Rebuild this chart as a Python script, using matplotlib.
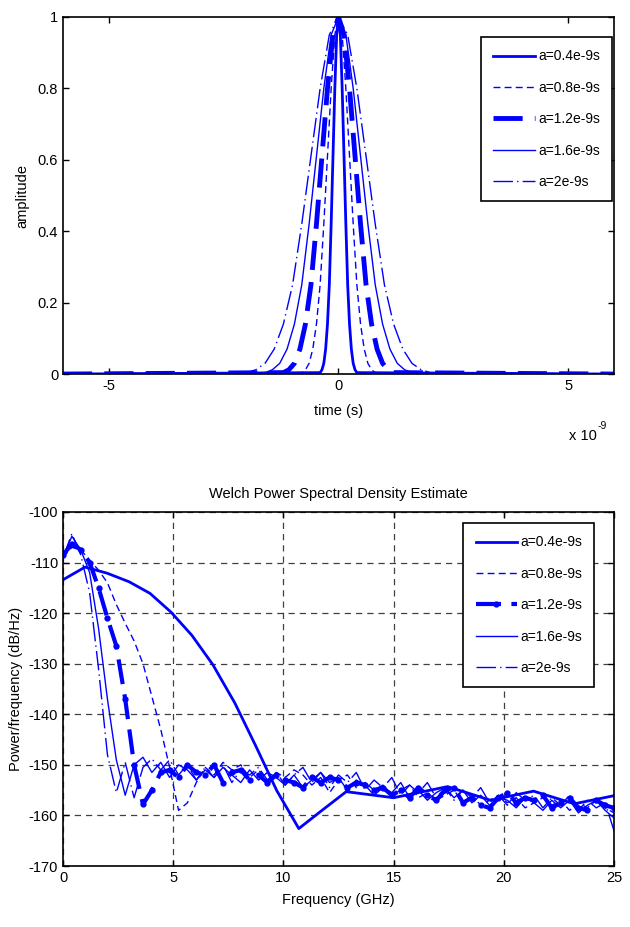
import numpy as np
import matplotlib
matplotlib.use("Agg")
import matplotlib.pyplot as plt

plt.rcParams['font.family'] = ['Liberation Sans', 'DejaVu Sans']
plt.rcParams['font.size'] = 10.5
plt.rcParams['axes.unicode_minus'] = False

labels = ["a=0.4e-9s", "a=0.8e-9s", "a=1.2e-9s", "a=1.6e-9s", "a=2e-9s"]

# top panel: half profile of each pulse (time in ns, right side, mirrored)
pulse_amp = [1.0, 0.95, 0.80, 0.61, 0.42, 0.25, 0.14, 0.07, 0.03, 0.012, 0.004, 0.0]
t_04 = [0, 0.04, 0.08, 0.12, 0.16, 0.20, 0.24, 0.28, 0.32, 0.36, 0.40, 6.0]
t_08 = [0, 0.08, 0.16, 0.24, 0.32, 0.40, 0.48, 0.56, 0.64, 0.72, 0.80, 6.0]
t_12 = [0, 0.12, 0.24, 0.36, 0.48, 0.60, 0.72, 0.84, 0.96, 1.08, 1.20, 6.0]
t_16 = [0, 0.16, 0.32, 0.48, 0.64, 0.80, 0.96, 1.12, 1.28, 1.44, 1.60, 6.0]
t_20 = [0, 0.20, 0.40, 0.60, 0.80, 1.00, 1.20, 1.40, 1.60, 1.80, 2.00, 6.0]

# bottom panel: Welch PSD (dB/Hz)
f_04 = [0, 1.0, 2.0, 3.0, 3.95, 4.9, 5.85, 6.8, 7.8, 8.75, 9.7, 10.7, 11.75,
        12.85, 15.0, 17.45, 19.4, 21.35, 23.2, 25.0]
psd_04 = [-113.4, -110.9, -112.1, -113.8, -116.1, -119.8, -124.4, -130.2, -137.8,
          -146.3, -155.1, -162.6, -159.0, -155.3, -156.5, -154.3, -157.0, -155.2,
          -157.7, -156.1]
psd_08 = [-109.0, -107.0, -107.5, -109.5, -111.5, -114.0, -118.3, -122.0, -125.5,
          -130.0, -136.5, -143.0, -150.5, -159.0, -157.5, -153.5, -150.5, -152.0,
          -149.5, -151.0, -150.0, -152.5, -151.0, -153.0, -151.5, -152.5, -151.0,
          -152.0, -154.0, -152.5, -155.5, -153.0, -152.0, -154.5, -153.5, -155.0,
          -154.0, -156.0, -155.0, -154.0, -156.5, -155.5, -157.0, -156.0, -155.0,
          -157.5, -156.0, -158.0, -157.0, -156.0, -157.5, -156.5, -158.5, -157.5,
          -156.5, -158.0, -157.0, -159.0, -157.5, -158.5, -157.0, -158.5, -159.5]
psd_12 = [-108.5, -106.3, -107.5, -110.0, -115.0, -121.0, -126.5, -137.0, -150.0,
          -157.8, -155.0, -151.5, -151.0, -152.5, -150.0, -151.5, -152.0, -150.0,
          -153.5, -151.5, -151.0, -153.0, -152.0, -153.5, -152.0, -153.0, -153.5,
          -154.5, -152.5, -153.5, -152.5, -153.0, -154.5, -153.5, -154.0, -155.0,
          -154.5, -156.0, -155.0, -156.5, -154.5, -156.0, -157.0, -155.0, -154.5,
          -157.5, -156.5, -158.0, -158.5, -156.5, -155.5, -157.5, -156.5, -157.0,
          -156.0, -158.5, -157.5, -156.5, -158.5, -159.0, -157.0, -158.0, -158.5]
psd_16 = [-109.0, -104.8, -107.5, -112.0, -123.0, -137.0, -149.0, -156.0, -150.0,
          -148.5, -151.5, -149.5, -152.5, -150.0, -151.0, -153.0, -151.0, -152.5,
          -150.5, -152.0, -153.5, -151.0, -153.0, -151.5, -152.5, -154.0, -152.0,
          -154.5, -153.0, -151.5, -153.5, -152.5, -155.0, -153.0, -154.0, -156.0,
          -154.5, -155.5, -153.5, -156.5, -155.0, -157.0, -155.5, -154.5, -156.5,
          -155.0, -157.5, -156.0, -158.0, -156.5, -157.0, -158.5, -156.5, -157.5,
          -159.0, -157.0, -158.5, -157.0, -159.5, -158.0, -157.0, -159.0, -160.5]
psd_20 = [-109.0, -104.3, -108.5, -116.0, -131.0, -148.0, -155.5, -149.5, -156.5,
          -150.5, -148.8, -151.0, -149.0, -152.0, -150.0, -153.0, -150.5, -152.5,
          -150.0, -153.5, -151.0, -152.0, -150.5, -153.0, -151.5, -154.0, -152.0,
          -150.5, -153.5, -151.5, -154.5, -152.0, -153.5, -151.5, -155.0, -153.0,
          -154.5, -152.5, -156.0, -154.0, -155.5, -153.5, -156.5, -154.5, -157.0,
          -155.0, -156.5, -154.5, -157.5, -156.0, -158.0, -155.5, -157.0, -156.0,
          -158.5, -156.5, -158.0, -156.0, -159.0, -157.0, -158.5, -157.5, -163.0]
f_step = 25.0 / 62

blue = '#0000ff'
styles = [
    dict(ls='-', lw=2.0),
    dict(ls='--', lw=1.0, dashes=(5, 3)),
    dict(ls='--', lw=3.5, dashes=(6, 2.5)),
    dict(ls='-', lw=1.0),
    dict(ls='-.', lw=1.0, dashes=(14, 3, 1, 3)),
]

fig = plt.figure(figsize=(6.3, 9.27), dpi=100)
ax1 = fig.add_axes([0.1, 0.5965, 0.8746, 0.3852])
ax2 = fig.add_axes([0.1, 0.0658, 0.8746, 0.3819])

def mirror(t, y):
    t = np.asarray(t)
    y = np.asarray(y)
    return np.concatenate([-t[::-1], t[1:]]), np.concatenate([y[::-1], y[1:]])

for t, lab, st in zip([t_04, t_08, t_12, t_16, t_20], labels, styles):
    tt, yy = mirror(t, pulse_amp)
    ax1.plot(tt, yy, color=blue, label=lab, **st)

ax1.set_xlim(-6, 6)
ax1.set_ylim(0, 1)
ax1.set_xticks([-5, 0, 5])
ax1.set_yticks([0, 0.2, 0.4, 0.6, 0.8, 1])
ax1.set_yticklabels(['0', '0.2', '0.4', '0.6', '0.8', '1'])
ax1.set_xlabel('time (s)', labelpad=8)
ax1.set_ylabel('amplitude', labelpad=6)
# exponent label like MATLAB's "x 10^-9"
fig.text(0.948, 0.530, 'x 10', ha='right', va='center', fontsize=10.5)
fig.text(0.949, 0.540, '-9', ha='left', va='center', fontsize=7.5)

# bottom panel
ax2.plot(f_04, psd_04, color=blue, label=labels[0], **styles[0])
fine = [psd_08, psd_12, psd_16, psd_20]
for psd, lab, st in zip(fine, labels[1:], styles[1:]):
    f = np.arange(len(psd)) * f_step
    if lab == "a=1.2e-9s":
        ax2.plot(f, psd, color=blue, label=lab, ls='--', lw=3.0, dashes=(6, 2.5),
                 marker='.', markersize=7)
    else:
        ax2.plot(f, psd, color=blue, label=lab, **st)

ax2.set_xlim(0, 25)
ax2.set_ylim(-170, -100)
ax2.set_xticks([0, 5, 10, 15, 20, 25])
ax2.set_yticks(np.arange(-170, -99, 10))
ax2.grid(True, color='0.25', ls='--', lw=0.9, dashes=(5, 4))
ax2.set_axisbelow(True)
ax2.set_xlabel('Frequency (GHz)', labelpad=6)
ax2.set_ylabel('Power/frequency (dB/Hz)', labelpad=4)
ax2.set_title('Welch Power Spectral Density Estimate', fontsize=10.5, pad=10)

for ax in (ax1, ax2):
    ax.tick_params(direction='in', top=True, right=True, length=4, width=1,
                   labelsize=10.5)
    for sp in ax.spines.values():
        sp.set_linewidth(1.2)

leg_kw = dict(loc='upper left', borderaxespad=0, fancybox=False, edgecolor='black',
              fontsize=10, handlelength=3.0, labelspacing=1.25, borderpad=0.9,
              handletextpad=0.2, framealpha=1)
l1 = ax1.legend(bbox_to_anchor=(0.7586, 0.944), **leg_kw)
l2 = ax2.legend(bbox_to_anchor=(0.726, 0.969), **leg_kw)
for lg in (l1, l2):
    lg.get_frame().set_linewidth(1.2)

fig.savefig('out.png', dpi=100)
